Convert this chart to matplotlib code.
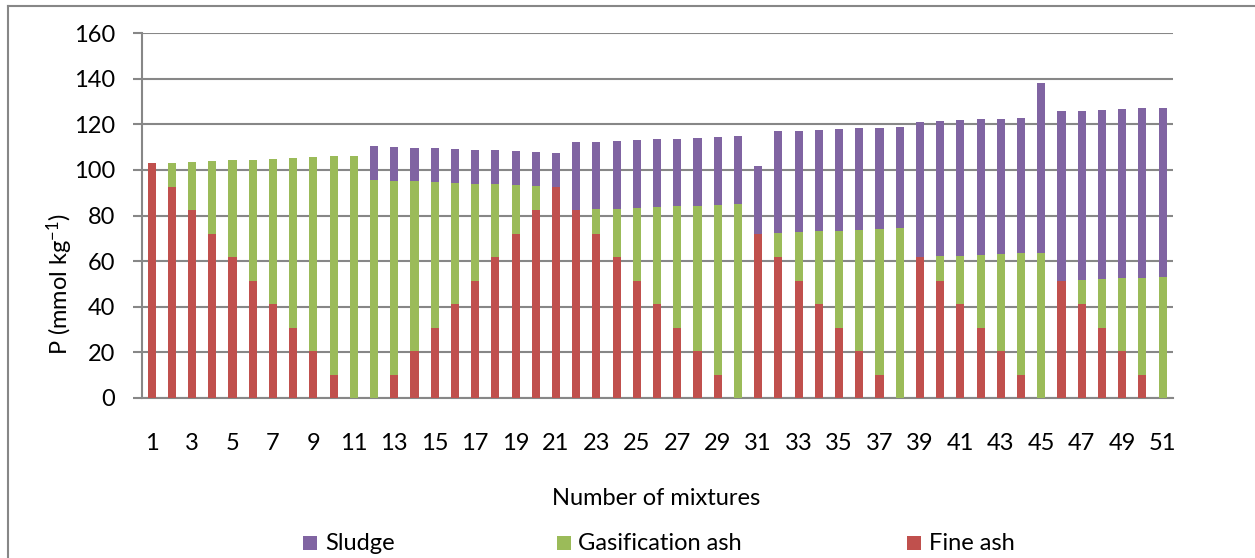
import matplotlib
matplotlib.use("Agg")
import matplotlib.pyplot as plt
from matplotlib.patches import Rectangle
from matplotlib.lines import Line2D

plt.rcParams['font.family'] = ['Lato', 'DejaVu Sans']
plt.rcParams['mathtext.fontset'] = 'custom'
plt.rcParams['mathtext.rm'] = 'Lato'
plt.rcParams['mathtext.it'] = 'Lato:italic'
plt.rcParams['mathtext.bf'] = 'Lato:bold'

# Mixture numbers and the P contribution of each component (mmol/kg)
mixtures = list(range(1, 52))

fine_ash = [
    103.0, 92.7, 82.4, 72.1, 61.8, 51.5, 41.2, 30.9, 20.6, 10.3, 0.0,
    0.0, 10.3, 20.6, 30.9, 41.2, 51.5, 61.8, 72.1, 82.4, 92.7,
    82.4, 72.1, 61.8, 51.5, 41.2, 30.9, 20.6, 10.3, 0.0,
    72.1, 61.8, 51.5, 41.2, 30.9, 20.6, 10.3, 0.0,
    61.8, 51.5, 41.2, 30.9, 20.6, 10.3, 0.0,
    51.5, 41.2, 30.9, 20.6, 10.3, 0.0,
]
gasification_ash = [
    0.0, 10.5, 21.1, 31.7, 42.4, 53.0, 63.7, 74.4, 85.0, 95.6, 106.2,
    95.6, 85.0, 74.4, 63.7, 53.1, 42.5, 31.9, 21.2, 10.6, 0.0,
    0.0, 10.6, 21.2, 31.9, 42.5, 53.1, 63.7, 74.4, 85.0,
    0.0, 10.6, 21.2, 31.9, 42.5, 53.1, 63.7, 74.4,
    0.0, 10.6, 21.2, 31.9, 42.5, 53.1, 63.7,
    0.0, 10.6, 21.2, 31.9, 42.5, 53.1,
]
sludge = [
    0.0, 0.0, 0.0, 0.0, 0.0, 0.0, 0.0, 0.0, 0.0, 0.0, 0.0,
    14.8, 14.8, 14.8, 14.8, 14.8, 14.8, 14.8, 14.8, 14.8, 14.8,
    29.7, 29.7, 29.7, 29.7, 29.7, 29.7, 29.7, 29.7, 29.7,
    29.7, 44.5, 44.5, 44.5, 44.5, 44.5, 44.5, 44.5,
    59.4, 59.4, 59.4, 59.4, 59.4, 59.4, 74.3,
    74.2, 74.2, 74.2, 74.2, 74.2, 74.2,
]

series_names = ['Sludge', 'Gasification ash', 'Fine ash']
series_colors = ['#8064A2', '#9BBB59', '#C0504D']
y_ticks = [0, 20, 40, 60, 80, 100, 120, 140, 160]

W, H = 1255, 558
grid_color = '#878787'

fig = plt.figure(figsize=(W / 100, H / 100), dpi=100)
ax = fig.add_axes([141.5 / W, (H - 398) / H, (1172.7 - 141.5) / W, (398 - 33) / H])

bar_w = 0.4
bottom2 = [a + b for a, b in zip(fine_ash, gasification_ash)]
ax.bar(mixtures, fine_ash, width=bar_w, color=series_colors[2], zorder=3, linewidth=0)
ax.bar(mixtures, gasification_ash, width=bar_w, bottom=fine_ash,
       color=series_colors[1], zorder=3, linewidth=0)
ax.bar(mixtures, sludge, width=bar_w, bottom=bottom2,
       color=series_colors[0], zorder=3, linewidth=0)

ax.set_xlim(0.5, 51.5)
ax.set_ylim(0, 160)
ax.set_yticks(y_ticks)
ax.set_xticks(mixtures[::2])
ax.set_xticklabels([str(m) for m in mixtures[::2]])

ax.yaxis.grid(True, color=grid_color, linewidth=1.5, zorder=0)
ax.set_axisbelow(True)

for side in ('top', 'right'):
    ax.spines[side].set_visible(False)
for side in ('left', 'bottom'):
    ax.spines[side].set_color(grid_color)
    ax.spines[side].set_linewidth(1.5)

ax.tick_params(axis='y', direction='out', length=6.5, width=1.5, color=grid_color,
               labelsize=17, pad=12.5, labelcolor='#000000')
ax.tick_params(axis='x', length=0, labelsize=17, pad=25, labelcolor='#000000')

ax.set_xlabel('Number of mixtures', fontsize=17)
ax.xaxis.label.set_va('baseline')
ax.xaxis.set_label_coords(656.5 / W, (H - 505) / H, transform=fig.transFigure)

ax.set_ylabel(r'P (mmol kg$^{\mathregular{-1}}$)', fontsize=17)
ax.yaxis.label.set_va('center')
ax.yaxis.set_label_coords(60 / W, (H - 284) / H, transform=fig.transFigure)

# Legend entries laid out along the bottom of the chart area
legend_boxes = [303, 557, 907]
legend_texts = [325, 578, 929]
for name, col, bx, tx in zip(series_names, series_colors, legend_boxes, legend_texts):
    fig.add_artist(Rectangle((bx / W, (H - 550) / H), 14 / W, 14 / H,
                             transform=fig.transFigure, color=col, linewidth=0))
    fig.text(tx / W, (H - 550) / H, name, fontsize=17, ha='left', va='baseline')

# Chart-area frame
fig.add_artist(Line2D([8.3 / W, 1.0], [(H - 5.7) / H] * 2, transform=fig.transFigure,
                      color=grid_color, linewidth=1.5))
fig.add_artist(Line2D([8.3 / W] * 2, [0.0, (H - 5.7) / H], transform=fig.transFigure,
                      color=grid_color, linewidth=1.5))

fig.savefig('out.png', dpi=100)
